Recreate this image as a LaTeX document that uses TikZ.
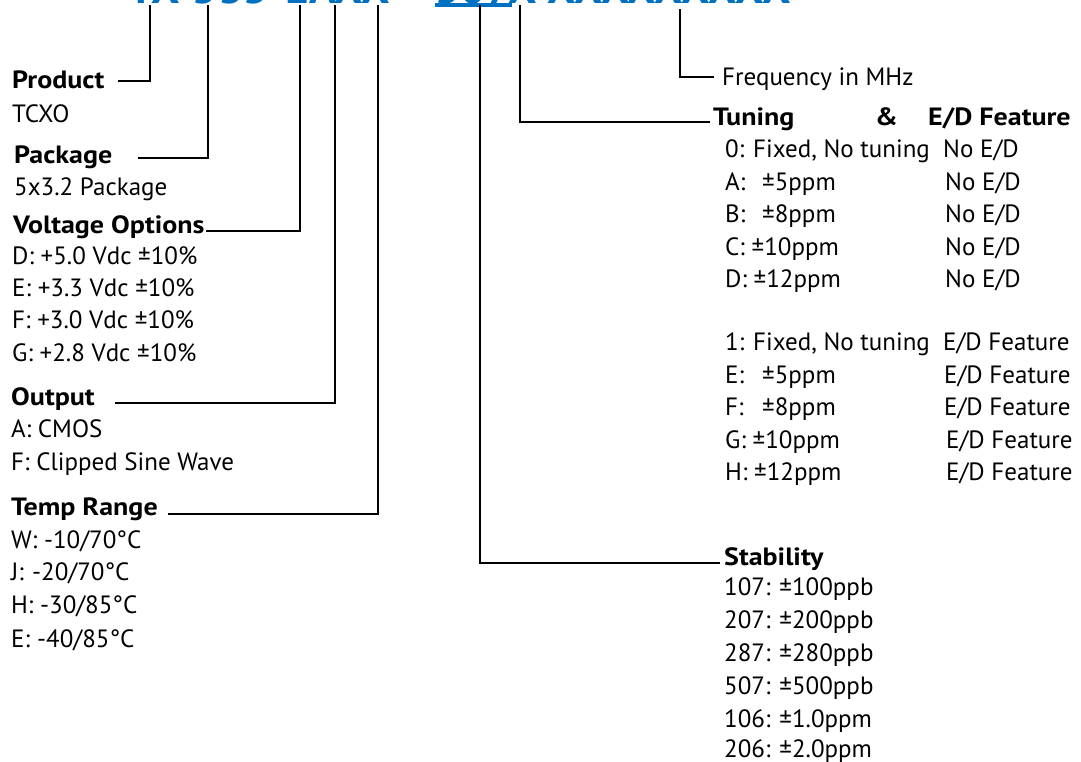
\documentclass[tikz,border=0pt]{standalone}
\usepackage{fontspec}
\setmainfont{PT Sans}[BoldFeatures={FakeStretch=1.12}]
\newfontfamily\codefont{PT Sans}
\usetikzlibrary{calc}
\begin{document}
\begin{tikzpicture}[x=1pt,y=-1pt]
        %%init
        \useasboundingbox (0,0) rectangle (1081,761);
        \definecolor{code_color}{RGB}{0,112,192}
        \tikzset{head/.style = {font=\bfseries\fontsize{25}{30}\selectfont, anchor=base west, inner sep=0}}
        \tikzset{item/.style = {font=\fontsize{25}{30}\selectfont, anchor=base west, inner sep=0}}
        \tikzset{code/.style = {font=\codefont\bfseries\fontsize{45}{54}\selectfont, text=code_color, anchor=base west, inner sep=0}}
        \tikzset{lead/.style = {line width=2pt}}

        %%型号 (上沿被裁掉)
        \node[code] (pnA) at (128,3) {TX-535-EAXX-};
        \node[code] (pnB) at (435,3) {507};
        \node[code] (pnC) at (508,3) {X-XXXXXXXXX};
        \draw[code_color, line width=4pt] ([yshift=-2pt]pnB.base west) -- ([yshift=-2pt]pnB.base east);

        %%引线顶端
        \coordinate (prodtop) at (150,5);
        \coordinate (pkgtop) at (208,5);
        \coordinate (volttop) at (300,5);
        \coordinate (outtop) at (335,5);
        \coordinate (temptop) at (378,5);
        \coordinate (stabtop) at (480,5);
        \coordinate (tunetop) at (520,5);
        \coordinate (freqtop) at (680,9);

        %%左侧
        \node[head] (prod) at (12,88) {Product};
        \node[item] (tcxo) at (12,122) {TCXO};
        \node[head] (pkg) at (14,163) {Package};
        \node[item] (pkgA) at (14,195) {5x3.2 Package};
        \node[head] (volt) at (13,233) {Voltage Options};
        \node[item] (voltD) at (12,264) {D: +5.0 Vdc ±10\%};
        \node[item] (voltE) at (12,296) {E: +3.3 Vdc ±10\%};
        \node[item] (voltF) at (12,328) {F: +3.0 Vdc ±10\%};
        \node[item] (voltG) at (12,361) {G: +2.8 Vdc ±10\%};
        \node[head] (out) at (11,405) {Output};
        \node[item] (outA) at (11,437) {A: CMOS};
        \node[item] (outF) at (11,470) {F: Clipped Sine Wave};
        \node[head] (temp) at (11,515) {Temp Range};
        \node[item] (tempW) at (11,548) {W: -10/70°C};
        \node[item] (tempJ) at (11,580) {\makebox[21pt][l]{J:}-20/70°C};
        \node[item] (tempH) at (11,613) {H: -30/85°C};
        \node[item] (tempE) at (11,647) {\makebox[26pt][l]{E:}-40/85°C};

        \draw[lead] ($(prod.base west)+(106,-7)$) -| (prodtop);
        \draw[lead] ($(pkg.base west)+(124,-5)$) -| (pkgtop);
        \draw[lead] ($(volt.base west)+(193,-2)$) -| (volttop);
        \draw[lead] ($(out.base west)+(104,-2)$) -| (outtop);
        \draw[lead] ($(temp.base west)+(157,-1)$) -| (temptop);

        %%右侧
        \node[item] (freq) at (722,85) {Frequency in MHz};
        \draw[lead] (freqtop) |- ($(freq.base west)+(-8,-8)$);

        \node[head] (tune) at (713,125) {Tuning};
        \node[head] (amp) at (875,125) {\&};
        \node[head] (edf) at (928,125) {E/D Feature};
        \draw[lead] (tunetop) |- ($(tune.base west)+(-3,-3)$);

        \node[item] (tune0) at (725,157) {0: Fixed, No tuning};
        \node[item] (tuneA) at (725,190) {\makebox[37pt][l]{A:}±5ppm};
        \node[item] (tuneB) at (725,222) {\makebox[37pt][l]{B:}±8ppm};
        \node[item] (tuneC) at (725,255) {C: ±10ppm};
        \node[item] (tuneD) at (725,287) {D: ±12ppm};
        \node[item] (ed0) at (943,157) {No E/D};
        \node[item] (edA) at (945,190) {No E/D};
        \node[item] (edB) at (945,222) {No E/D};
        \node[item] (edC) at (945,255) {No E/D};
        \node[item] (edD) at (945,287) {No E/D};

        \node[item] (tune1) at (725,350) {1: Fixed, No tuning};
        \node[item] (tuneE) at (725,383) {\makebox[37pt][l]{E:}±5ppm};
        \node[item] (tuneF) at (725,415) {\makebox[37pt][l]{F:}±8ppm};
        \node[item] (tuneG) at (725,448) {G: ±10ppm};
        \node[item] (tuneH) at (725,480) {H: ±12ppm};
        \node[item] (ed1) at (943,350) {E/D Feature};
        \node[item] (edE) at (944,383) {E/D Feature};
        \node[item] (edF) at (944,415) {E/D Feature};
        \node[item] (edG) at (946,448) {E/D Feature};
        \node[item] (edH) at (946,480) {E/D Feature};

        \node[head] (stab) at (724,565) {Stability};
        \draw[lead] (stabtop) |- ($(stab.base west)+(-4,-2)$);
        \node[item] (stab107) at (724,595) {107: ±100ppb};
        \node[item] (stab207) at (724,628) {207: ±200ppb};
        \node[item] (stab287) at (724,661) {287: ±280ppb};
        \node[item] (stab507) at (724,694) {507: ±500ppb};
        \node[item] (stab106) at (724,727) {106: ±1.0ppm};
        \node[item] (stab206) at (724,757) {206: ±2.0ppm};
\end{tikzpicture}
\end{document}
